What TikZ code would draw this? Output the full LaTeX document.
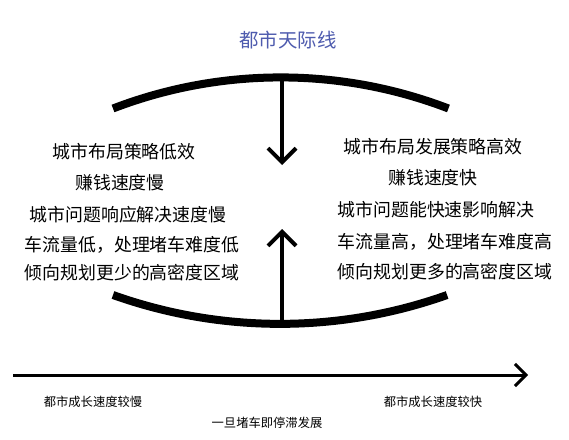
\documentclass[tikz,border=0pt]{standalone}
\usepackage{fontspec}
\setmainfont{Noto Sans CJK SC}
\usetikzlibrary{arrows.meta}
\definecolor{titleblue}{HTML}{4E5BAE}
\tikzset{
  maintxt/.style={font=\fontsize{17.9}{20}\selectfont, inner sep=0pt, anchor=center},
  smalltxt/.style={font=\fontsize{12.3}{14}\selectfont, inner sep=0pt, anchor=center},
  arcline/.style={line width=8pt, line cap=butt},
  stem/.style={line width=4pt, -{Straight Barb[length=14pt, width=28pt, line width=4pt]}},
  axis/.style={line width=3pt, -{Straight Barb[length=11pt, width=22pt, line width=3pt]}}
}
\begin{document}
\begin{tikzpicture}[x=1pt, y=-1pt]
\useasboundingbox (0,0) rectangle (569,439);
\fill[white] (0,0) rectangle (569,439);
% title
\node[font=\fontsize{19.4}{22}\selectfont, text=titleblue, inner sep=0pt] (title) at (288,40) {都市天际线};
% arcs
\coordinate (topL) at (113,108.5);
\coordinate (topA) at (282,77.5);
\coordinate (botL) at (113,295);
\coordinate (botA) at (282,324);
\draw[arcline] (topL) arc[start angle=-111, end angle=-69, radius=468];
\draw[arcline] (botL) arc[start angle=109.6, end angle=70.4, radius=498];
% arrows
\coordinate (downtip) at (282,165);
\coordinate (uptip) at (282,229);
\draw[stem] (topA) -- (downtip);
\draw[stem] (botA) -- (uptip);
% left texts
\node[maintxt] (l1) at (124,152) {城市布局策略低效};
\node[maintxt] (l2) at (120,183) {赚钱速度慢};
\node[maintxt] (l3) at (128,215) {城市问题响应解决速度慢};
\node[maintxt] (l4) at (132,245) {车流量低，处理堵车难度低};
\node[maintxt] (l5) at (132,273) {倾向规划更少的高密度区域};
% right texts
\node[maintxt] (r1) at (433,147) {城市布局发展策略高效};
\node[maintxt] (r2) at (433,178) {赚钱速度快};
\node[maintxt] (r3) at (436,210) {城市问题能快速影响解决};
\node[maintxt] (r4) at (445,242) {车流量高，处理堵车难度高};
\node[maintxt] (r5) at (445,272) {倾向规划更多的高密度区域};
% axis
\coordinate (axL) at (13,375);
\coordinate (axR) at (528,375);
\draw[axis] (axL) -- (axR);
\node[smalltxt] (slow) at (93,402) {都市成长速度较慢};
\node[smalltxt] (fast) at (433,402) {都市成长速度较快};
\node[smalltxt] (stop) at (267,423) {一旦堵车即停滞发展};
\end{tikzpicture}
\end{document}
